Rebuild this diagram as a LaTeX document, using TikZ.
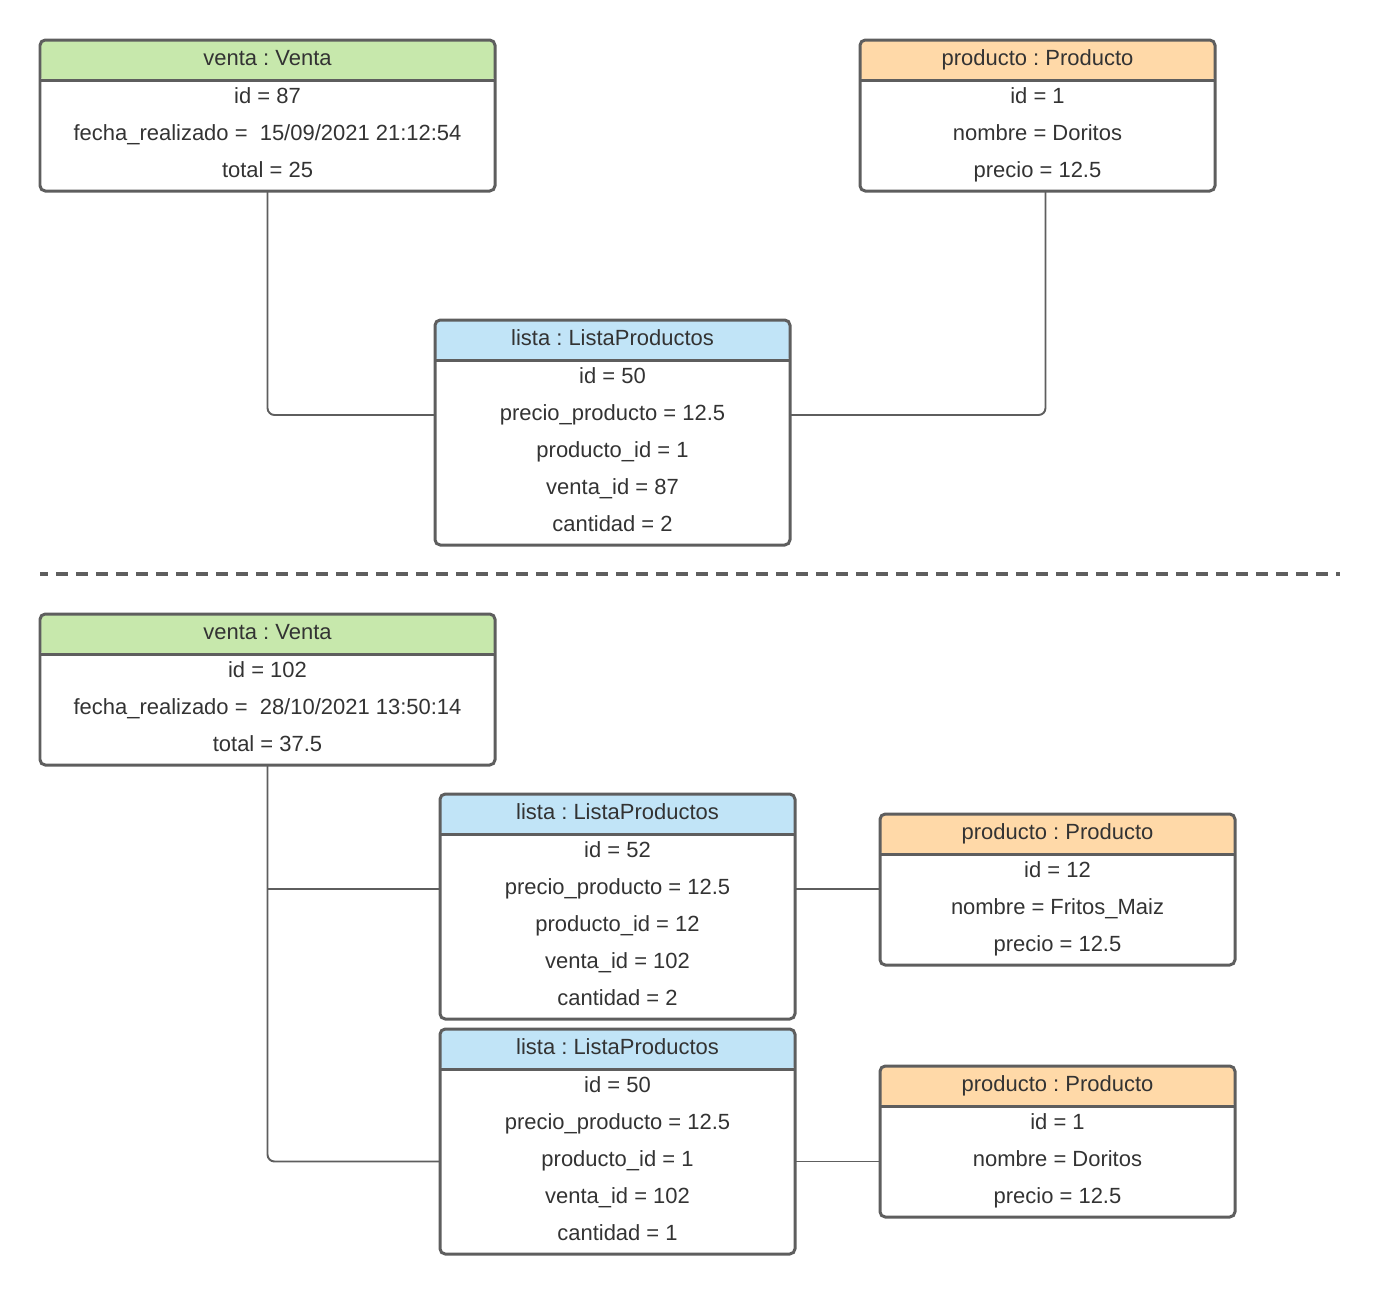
\documentclass[tikz,border=0pt]{standalone}
\usepackage{fontspec}
\setmainfont{Liberation Sans}
\usetikzlibrary{positioning, calc}

\definecolor{verde}{HTML}{C7E8AC}
\definecolor{naranja}{HTML}{FFD9A8}
\definecolor{celeste}{HTML}{C1E4F7}
\definecolor{borde}{HTML}{5E5E5E}
\definecolor{texto}{HTML}{333333}

\begin{document}
\frenchspacing
\begin{tikzpicture}[
    objhead/.style={rectangle, rounded corners=3pt, minimum height=0.8cm, inner sep=0pt, outer sep=0pt, text=texto, text height=0.32cm, text depth=0.12cm, font=\fontsize{12.5}{15}\selectfont},
    objbody/.style={rectangle, align=center, inner sep=0pt, outer sep=0pt, text=texto, text depth=0.11cm, font=\fontsize{12.5}{21}\selectfont},
    objframe/.style={draw=borde, line width=1.7pt, rounded corners=3pt},
    link/.style={draw=borde, line width=1.1pt, rounded corners=4pt},
    divider/.style={draw=borde, line width=2.3pt, dash pattern=on 0.24cm off 0.16cm, dash phase=0.08cm}
]

\useasboundingbox (0,0) rectangle (27.6,-25.88);

% === Venta 87 ===
\node[objhead, fill=verde, minimum width=9.1cm] (venta1) at (5.35,-1.2) {venta : Venta};
\node[objbody, minimum width=9.1cm, minimum height=2.22cm, below=0pt of venta1] (venta1b)
    {id = 87\\fecha\_realizado = \ 15/09/2021 21:12:54\\total = 25};
\draw[objframe] (venta1.north west) rectangle (venta1b.south east);
\draw[objframe] (venta1.south west) -- (venta1.south east);

% === Producto 1 ===
\node[objhead, fill=naranja, minimum width=7.1cm] (prod1) at (20.75,-1.2) {producto : Producto};
\node[objbody, minimum width=7.1cm, minimum height=2.22cm, below=0pt of prod1] (prod1b)
    {id = 1\\nombre = Doritos\\precio = 12.5};
\draw[objframe] (prod1.north west) rectangle (prod1b.south east);
\draw[objframe] (prod1.south west) -- (prod1.south east);

% === Lista 50 ===
\node[objhead, fill=celeste, minimum width=7.1cm] (lista1) at (12.25,-6.8) {lista : ListaProductos};
\node[objbody, minimum width=7.1cm, minimum height=3.7cm, below=0pt of lista1] (lista1b)
    {id = 50\\precio\_producto = 12.5\\producto\_id = 1\\venta\_id = 87\\cantidad = 2};
\draw[objframe] (lista1.north west) rectangle (lista1b.south east);
\draw[objframe] (lista1.south west) -- (lista1.south east);

% Links
\draw[link] (venta1b.south) |- ([yshift=0.75cm]lista1b.west);
\draw[link] ([yshift=0.75cm]lista1b.east) -| ([xshift=0.16cm]prod1b.south);

% === Divider ===
\coordinate (divL) at (0.8,-11.48);
\coordinate (divR) at (26.8,-11.48);
\draw[divider] (divL) -- (divR);

% === Venta 102 ===
\node[objhead, fill=verde, minimum width=9.1cm] (venta2) at (5.35,-12.68) {venta : Venta};
\node[objbody, minimum width=9.1cm, minimum height=2.22cm, below=0pt of venta2] (venta2b)
    {id = 102\\fecha\_realizado = \ 28/10/2021 13:50:14\\total = 37.5};
\draw[objframe] (venta2.north west) rectangle (venta2b.south east);
\draw[objframe] (venta2.south west) -- (venta2.south east);

% === Lista 52 ===
\node[objhead, fill=celeste, minimum width=7.1cm] (lista2) at (12.35,-16.28) {lista : ListaProductos};
\node[objbody, minimum width=7.1cm, minimum height=3.7cm, below=0pt of lista2] (lista2b)
    {id = 52\\precio\_producto = 12.5\\producto\_id = 12\\venta\_id = 102\\cantidad = 2};
\draw[objframe] (lista2.north west) rectangle (lista2b.south east);
\draw[objframe] (lista2.south west) -- (lista2.south east);

% === Producto 12 ===
\node[objhead, fill=naranja, minimum width=7.1cm] (prod2) at (21.15,-16.68) {producto : Producto};
\node[objbody, minimum width=7.1cm, minimum height=2.22cm, below=0pt of prod2] (prod2b)
    {id = 12\\nombre = Fritos\_Maiz\\precio = 12.5};
\draw[objframe] (prod2.north west) rectangle (prod2b.south east);
\draw[objframe] (prod2.south west) -- (prod2.south east);

% === Lista 50 (2) ===
\node[objhead, fill=celeste, minimum width=7.1cm] (lista3) at (12.35,-20.98) {lista : ListaProductos};
\node[objbody, minimum width=7.1cm, minimum height=3.7cm, below=0pt of lista3] (lista3b)
    {id = 50\\precio\_producto = 12.5\\producto\_id = 1\\venta\_id = 102\\cantidad = 1};
\draw[objframe] (lista3.north west) rectangle (lista3b.south east);
\draw[objframe] (lista3.south west) -- (lista3.south east);

% === Producto 1 (2) ===
\node[objhead, fill=naranja, minimum width=7.1cm] (prod3) at (21.15,-21.72) {producto : Producto};
\node[objbody, minimum width=7.1cm, minimum height=2.22cm, below=0pt of prod3] (prod3b)
    {id = 1\\nombre = Doritos\\precio = 12.5};
\draw[objframe] (prod3.north west) rectangle (prod3b.south east);
\draw[objframe] (prod3.south west) -- (prod3.south east);

% Links
\coordinate (rama) at ([yshift=0.75cm]lista2b.west);
\draw[link] (venta2b.south) |- (lista3b.west);
\draw[link, rounded corners=0pt] (venta2b.south |- rama) -- (rama);
\draw[link] ([yshift=0.75cm]lista2b.east) -- ([yshift=0.75cm]lista2b.east -| prod2b.west);
\draw[link] (lista3b.east) -- (lista3b.east -| prod3b.west);

\end{tikzpicture}
\end{document}
